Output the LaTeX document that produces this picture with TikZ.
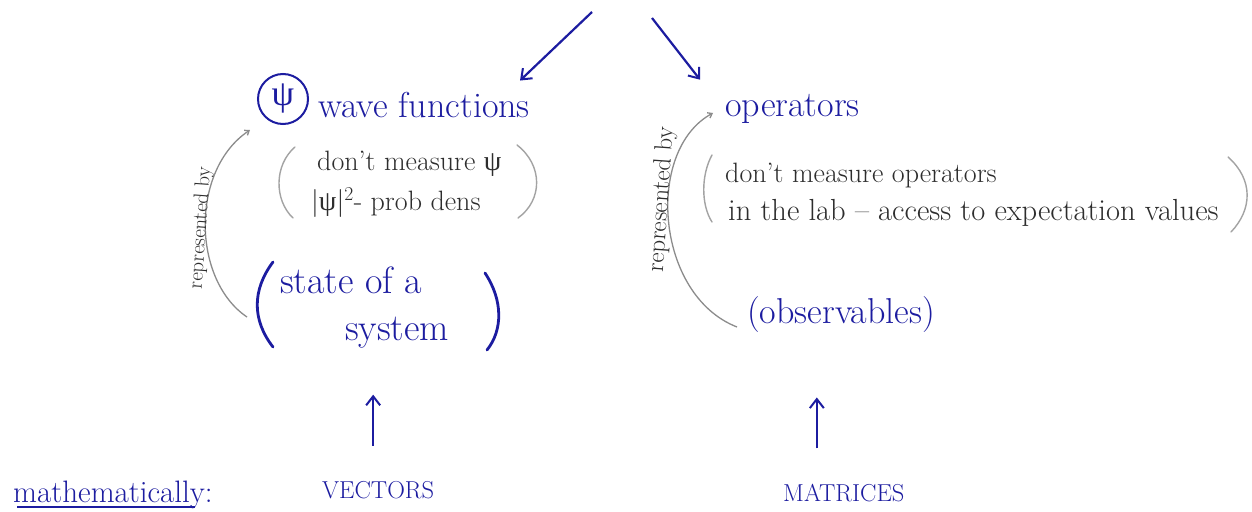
\documentclass[tikz,border=0pt]{standalone}
\usepackage{fontspec}
\newfontfamily\grk{Liberation Serif}
\usetikzlibrary{arrows.meta}
\definecolor{ink}{RGB}{28,28,160}
\definecolor{pencil}{RGB}{140,140,140}
\definecolor{lead}{RGB}{45,45,45}
\tikzset{
  bluetext/.style={text=ink, inner sep=0pt},
  big/.style={bluetext, font=\fontsize{36}{40}\selectfont},
  caps/.style={bluetext, font=\fontsize{24.5}{28}\selectfont},
  notetext/.style={text=lead, inner sep=0pt, font=\fontsize{28}{32}\selectfont},
  repby/.style={text=lead, inner sep=0pt, font=\fontsize{21}{24}\selectfont},
  bluearrow/.style={draw=ink, line width=2.2pt, -{Straight Barb[length=9pt,width=14pt,line width=2pt]}},
  pencilarc/.style={draw=pencil, line width=1.3pt, -{Straight Barb[length=4pt,width=6pt]}},
  pencilparen/.style={draw=pencil!80, line width=1.4pt, line cap=round},
  blueparen/.style={draw=ink, line width=2.8pt, line cap=round},
}
\begin{document}
\begin{tikzpicture}[x=1pt,y=-1pt]
\fill[white] (0,0) rectangle (1252,511);
\useasboundingbox (0,0) rectangle (1252,511);

% top sources
\coordinate (srcL) at (592,12);
\coordinate (srcR) at (652,18);

% left column
\node[circle, draw=ink, line width=2pt, minimum size=50pt, inner sep=0pt, text=ink,
      font=\grk\fontsize{36}{36}\selectfont] (psi) at (283,99) {ψ};
\node[big, anchor=base west] (wave) at (318,117) {wave functions};
\node[notetext, anchor=base west] (n1a) at (317,170) {don't measure {\grk ψ}};
\node[notetext, anchor=base west] (n1b) at (311,210) {|{\grk ψ}|\textsuperscript{2}- prob dens};
\draw[pencilparen] (295,147) .. controls (274,165) and (274,200) .. (293,218);
\draw[pencilparen] (517,145) .. controls (543,165) and (543,200) .. (518,218);

\node[big, anchor=base west, font=\fontsize{38}{42}\selectfont] (st1) at (280,293) {state of a};
\node[big, anchor=base west, font=\fontsize{38}{42}\selectfont] (st2) at (345,340) {system};
\draw[blueparen] (273,262) .. controls (252,290) and (252,320) .. (273,347);
\draw[blueparen] (485,273) .. controls (503,300) and (503,330) .. (487,350);

\coordinate (a1s) at (247,317);
\coordinate (a1e) at (250,130);
\draw[pencilarc] (a1s) .. controls (192,280) and (190,170) .. (a1e);
\node[repby, rotate=86, anchor=base] (rep1) at (206,228) {represented by};

\node[caps, anchor=base west] (vec) at (322,498) {VECTORS};
\draw[bluearrow] ([xshift=-5pt,yshift=35pt]vec.north) -- ([xshift=-5pt,yshift=86pt]vec.north);

\node[big, anchor=base west, font=\fontsize{31}{35}\selectfont] (math) at (13,502) {mathematically:};
\draw[ink, line width=1.6pt] ([shift={(4pt,-5pt)}]math.base west) -- ([shift={(-18pt,-5pt)}]math.base east);

% right column
\node[big, anchor=base west] (ops) at (725,116) {operators};
\node[notetext, anchor=base west] (n2a) at (725,182) {don't measure operators};
\node[notetext, anchor=base west, font=\fontsize{30.5}{34}\selectfont] (n2b) at (728,220) {in the lab -- access to expectation values};
\draw[pencilparen] (712,155) .. controls (701,175) and (701,205) .. (712,222);
\draw[pencilparen] (1228,157) .. controls (1254,180) and (1252,210) .. (1231,232);

\node[big, anchor=base west] (obs) at (747,323) {(observables)};
\coordinate (a2s) at (737,327);
\coordinate (a2e) at (713,113);
\draw[pencilarc] (a2s) .. controls (655,295) and (645,150) .. (a2e);
\node[repby, rotate=86, anchor=base, font=\fontsize{25}{28}\selectfont] (rep2) at (668,200) {represented by};

\node[caps, anchor=base west] (mat) at (783,501) {MATRICES};
\draw[bluearrow] ([xshift=-27pt,yshift=35pt]mat.north) -- ([xshift=-27pt,yshift=86pt]mat.north);

% top arrows
\draw[bluearrow] (srcL) -- ([shift={(-10,-11)}]wave.north east);
\draw[bluearrow] (srcR) -- ([shift={(-25,-14)}]ops.north west);
\end{tikzpicture}
\end{document}
